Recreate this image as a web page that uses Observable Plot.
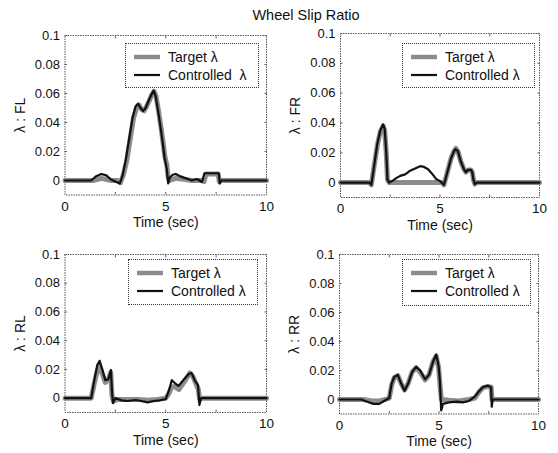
<!DOCTYPE html>
<html><head><meta charset="utf-8">
<script src="https://cdn.jsdelivr.net/npm/d3@7"></script>
<script src="https://cdn.jsdelivr.net/npm/@observablehq/plot@0.6"></script>
<style>
body{margin:0;background:#fff;}
#wrap{position:relative;width:558px;height:453px;overflow:hidden;background:#fff;font-family:"Liberation Sans",Arial,sans-serif;color:#111;}
.panel{position:absolute;}
.title{position:absolute;top:7px;left:306px;transform:translateX(-50%);font-size:14.5px;white-space:nowrap;}
.legend{position:absolute;background:#fff;border:1px dotted #333;font-size:14px;box-sizing:border-box;padding:4px 0 0 8px;}
.legend .row{display:flex;align-items:center;height:18px;white-space:pre;}
.legend svg{margin-right:8px;}
</style></head>
<body><div id="wrap"><div class="title">Wheel Slip Ratio</div></div>
<script>
const title = "Wheel Slip Ratio";
const xLabel = "Time (sec)";
const xTicks = [0, 5, 10];
const yTicks = [0, 0.02, 0.04, 0.06, 0.08, 0.1];
const yTickLabels = ["0", "0.02", "0.04", "0.06", "0.08", "0.1"];
const wheels = ["FL", "FR", "RL", "RR"];
const seriesNames = ["Target λ", "Controlled λ"];

// [time (sec), slip ratio]
const flTarget = [[0,0],[1.4,0],[1.8,0.0015],[2.3,0],[2.6,0],[2.75,-0.0015],[2.9,0.004],[3.07,0.014],[3.25,0.03],[3.4,0.043],[3.55,0.05],[3.68,0.052],[3.8,0.049],[3.92,0.048],[4.05,0.051],[4.18,0.055],[4.3,0.059],[4.42,0.0615],[4.52,0.058],[4.64,0.048],[4.75,0.038],[4.85,0.028],[4.95,0.017],[5.05,0.011],[5.12,0.002],[5.2,0],[5.5,0.0015],[5.9,0.0008],[6.3,0],[6.8,0],[6.9,-0.0008],[7.0,0.0045],[7.6,0.0045],[7.66,-0.001],[7.72,0],[10,0]];
const flControl = [[0,0],[1.3,0],[1.55,0.003],[1.8,0.0045],[2.05,0.0035],[2.3,0.0005],[2.55,-0.001],[2.72,-0.002],[2.85,0.003],[3.0,0.013],[3.2,0.03],[3.35,0.043],[3.5,0.051],[3.62,0.053],[3.75,0.05],[3.88,0.048],[4.0,0.05],[4.15,0.055],[4.28,0.059],[4.4,0.062],[4.5,0.058],[4.62,0.048],[4.73,0.038],[4.85,0.026],[4.95,0.015],[5.05,0.008],[5.12,-0.002],[5.2,0.002],[5.35,0.004],[5.5,0.0045],[5.7,0.003],[5.9,0.002],[6.1,0.001],[6.3,0],[6.55,0.001],[6.8,-0.001],[6.92,0.005],[7.63,0.005],[7.68,-0.002],[7.75,0],[10,0]];
const frTarget = [[0,0],[1.45,0],[1.55,-0.0015],[1.7,0.012],[1.85,0.025],[2.0,0.034],[2.14,0.038],[2.22,0.035],[2.3,0.02],[2.36,0.002],[2.45,0],[5.1,0],[5.2,-0.0015],[5.35,0.006],[5.55,0.016],[5.7,0.021],[5.8,0.023],[5.9,0.021],[6.05,0.014],[6.2,0.009],[6.3,0.007],[6.42,0.0085],[6.55,0.0085],[6.62,0.007],[6.68,0.002],[6.75,-0.001],[6.85,0],[10,0]];
const frControl = [[0,0],[1.45,0],[1.55,-0.0015],[1.7,0.012],[1.85,0.026],[2.0,0.035],[2.14,0.039],[2.22,0.036],[2.3,0.02],[2.36,0.002],[2.45,0],[2.6,0.001],[2.8,0.003],[3.0,0.0045],[3.25,0.0055],[3.5,0.008],[3.75,0.0095],[4.0,0.011],[4.2,0.0105],[4.4,0.009],[4.6,0.006],[4.8,0.0025],[5.0,0.001],[5.2,-0.0015],[5.35,0.006],[5.55,0.016],[5.7,0.021],[5.78,0.0225],[5.9,0.021],[6.05,0.014],[6.2,0.009],[6.3,0.007],[6.42,0.0085],[6.55,0.0085],[6.62,0.007],[6.68,0.002],[6.75,-0.001],[6.85,0],[10,0]];
const rlTarget = [[0,0],[1.3,0],[1.45,0.01],[1.6,0.019],[1.72,0.022],[1.85,0.017],[2.0,0.011],[2.15,0.013],[2.27,0.018],[2.33,0.002],[2.4,-0.002],[2.6,-0.001],[3.0,-0.001],[3.6,-0.001],[4.1,-0.0015],[4.6,-0.001],[5.0,0],[5.15,0.003],[5.3,0.008],[5.45,0.008],[5.65,0.006],[5.9,0.011],[6.2,0.0175],[6.35,0.015],[6.5,0.01],[6.62,0.006],[6.68,-0.001],[6.8,0],[10,0]];
const rlControl = [[0,0],[1.3,0],[1.45,0.012],[1.6,0.023],[1.72,0.026],[1.85,0.02],[2.0,0.0125],[2.15,0.013],[2.28,0.0195],[2.33,0.005],[2.38,-0.0035],[2.5,0],[2.8,-0.0015],[3.1,-0.002],[3.5,-0.0013],[3.8,-0.002],[4.1,-0.003],[4.4,-0.002],[4.7,-0.0015],[5.0,-0.0007],[5.15,0.005],[5.3,0.0125],[5.45,0.0105],[5.63,0.0085],[5.9,0.013],[6.15,0.017],[6.28,0.0175],[6.45,0.012],[6.6,0.009],[6.67,-0.0048],[6.75,0],[10,0]];
const rrTarget = [[0,0],[1.2,0],[1.6,-0.001],[2.0,-0.001],[2.3,0],[2.5,0.001],[2.62,0.01],[2.75,0.015],[2.93,0.0165],[3.1,0.011],[3.27,0.0065],[3.45,0.011],[3.65,0.019],[3.85,0.022],[4.05,0.019],[4.3,0.0135],[4.5,0.017],[4.7,0.026],[4.86,0.03],[4.98,0.022],[5.05,0.01],[5.12,0],[5.5,-0.0005],[6.0,-0.001],[6.5,0],[6.8,0.001],[7.0,0.005],[7.2,0.008],[7.45,0.009],[7.62,0.0085],[7.66,0],[10,0]];
const rrControl = [[0,0],[1.1,0],[1.4,-0.0015],[1.7,-0.003],[2.0,-0.003],[2.3,-0.0005],[2.5,0.001],[2.62,0.011],[2.75,0.0155],[2.93,0.017],[3.1,0.011],[3.27,0.006],[3.45,0.011],[3.65,0.019],[3.85,0.0225],[4.05,0.02],[4.3,0.014],[4.5,0.017],[4.7,0.026],[4.86,0.031],[4.98,0.023],[5.05,0.012],[5.11,-0.0075],[5.2,-0.003],[5.5,-0.002],[5.9,-0.0015],[6.2,-0.002],[6.5,-0.001],[6.8,0.002],[7.0,0.0055],[7.2,0.0085],[7.45,0.0095],[7.62,0.0085],[7.65,-0.005],[7.7,0],[10,0]];

const targets = [flTarget, frTarget, rlTarget, rrTarget];
const controls = [flControl, frControl, rlControl, rrControl];

// layout (pixels)
const layout = [
  {left:0, top:0, ml:64.5, mr:13, mt:35, mb:31.5, leg:{x:125,y:43,w:134,h:45}, ctl:"Controlled  λ"},
  {left:279, top:0, ml:61, mr:19, mt:33, mb:29, leg:{x:402,y:43,w:133,h:45}, ctl:"Controlled λ"},
  {left:0, top:226, ml:64.5, mr:13, mt:28, mb:40, leg:{x:128,y:259,w:130,h:46}, ctl:"Controlled λ"},
  {left:279, top:226, ml:60, mr:20, mt:28, mb:38.5, leg:{x:402,y:259,w:129,h:47}, ctl:"Controlled λ"}
];

const wrap = document.getElementById("wrap");
wheels.forEach((w, i) => {
  const L = layout[i];
  const fmt = d => yTickLabels[yTicks.indexOf(d)] ?? "";
  const chart = Plot.plot({
    width: 279, height: 226,
    marginLeft: L.ml, marginRight: L.mr, marginTop: L.mt, marginBottom: L.mb,
    style: {fontFamily: '"Liberation Sans", Arial, sans-serif', fontSize: "13px", background: "transparent", color: "#111", overflow: "visible"},
    x: {domain: [0, 10]},
    y: {domain: [-0.01, 0.1]},
    marks: [
      Plot.frame({stroke: "#444", strokeWidth: 0.9, strokeDasharray: "1.5,1"}),
      Plot.axisX({ticks: xTicks, tickSize: 0, tickPadding: 6, tickFormat: d => String(d), fontSize: 13.5, label: null}),
      Plot.axisX({ticks: [], tickSize: 0, label: xLabel, fontSize: 14, labelAnchor: "center", labelOffset: 32, labelArrow: "none"}),
      Plot.axisX({ticks: [2.5, 5, 7.5], tickSize: -2.5, tickFormat: () => "", label: null, stroke: "#666"}),
      Plot.axisX({anchor: "top", ticks: [2.5, 5, 7.5], tickSize: -2.5, tickFormat: () => "", label: null, stroke: "#666"}),
      Plot.axisY({ticks: yTicks, tickSize: 0, tickPadding: 5, tickFormat: fmt, fontSize: 13, label: null}),
      Plot.axisY({ticks: [], tickSize: 0, label: "λ : " + w, fontSize: 14, labelAnchor: "center", labelOffset: 50, labelArrow: "none"}),
      Plot.axisY({ticks: yTicks, tickSize: -2.5, tickFormat: () => "", label: null, stroke: "#666"}),
      Plot.axisY({anchor: "right", ticks: yTicks, tickSize: -2.5, tickFormat: () => "", label: null, stroke: "#666"}),
      Plot.line(targets[i], {x: d => d[0], y: d => d[1], stroke: "#8c8c8c", strokeWidth: 5, strokeLinejoin: "round"}),
      Plot.line(controls[i], {x: d => d[0], y: d => d[1], stroke: "#111", strokeWidth: 2.2, strokeLinejoin: "round"})
    ]
  });
  chart.classList.add("panel");
  chart.style.left = L.left + "px";
  chart.style.top = L.top + "px";
  wrap.appendChild(chart);

  const leg = document.createElement("div");
  leg.className = "legend";
  Object.assign(leg.style, {left: L.leg.x + "px", top: L.leg.y + "px", width: L.leg.w + "px", height: L.leg.h + "px"});
  const names = [seriesNames[0], L.ctl];
  const styles = [{c: "#8c8c8c", w: 4.5}, {c: "#111", w: 2.2}];
  names.forEach((n, k) => {
    const row = document.createElement("div");
    row.className = "row";
    row.innerHTML = `<svg width="26" height="8"><line x1="0" x2="26" y1="4" y2="4" stroke="${styles[k].c}" stroke-width="${styles[k].w}"/></svg><span>${n}</span>`;
    leg.appendChild(row);
  });
  wrap.appendChild(leg);
});
</script></body></html>
